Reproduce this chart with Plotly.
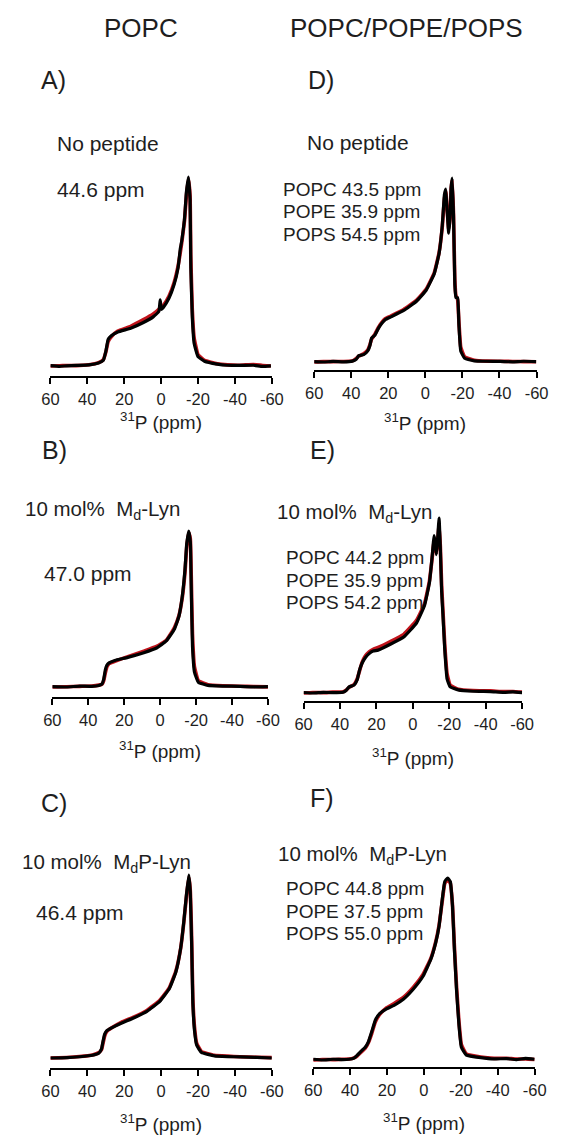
import plotly.graph_objects as go

W, H = 563, 1136
FONT = "Liberation Sans, Arial, sans-serif"
TXT = "#1e1e1e"

# ---------------- data ----------------
# Panel A: POPC, no peptide
A_ppm = [60, 55, 51.3, 46, 39.1, 33.9, 31.3, 29.9, 28.7, 27.0, 23.5, 16.5, 9.6, 4.3, 1.2, 0.5, -0.2, -1.2,
         -4.3, -7.0, -9.2, -10.4, -11.3, -12.7, -13.7, -14.8, -15.7, -16.1, -16.9, -17.9, -20.0, -23.5,
         -30.4, -36, -42.6, -50, -55, -59.5]
A_black = [0.002, -0.002, 0.001, 0.003, 0.006, 0.016, 0.03, 0.08, 0.14, 0.16, 0.18, 0.20, 0.23, 0.26, 0.29,
           0.35, 0.30, 0.31, 0.36, 0.43, 0.52, 0.62, 0.67, 0.78, 0.92, 1.0, 0.88, 0.52, 0.26, 0.12, 0.05,
           0.025, 0.01, 0.004, 0.003, 0.004, -0.002, 0.001]
A_red = [0.0, 0.001, 0.003, 0.002, 0.007, 0.018, 0.034, 0.075, 0.13, 0.155, 0.185, 0.21, 0.245, 0.275, 0.30,
         0.31, 0.31, 0.32, 0.37, 0.44, 0.53, 0.60, 0.66, 0.77, 0.90, 0.99, 0.90, 0.58, 0.30, 0.15, 0.06,
         0.03, 0.012, 0.006, 0.004, 0.008, 0.003, 0.0]

# Panel D: POPC/POPE/POPS, no peptide
D_ppm = [60, 55, 49.8, 44, 39.4, 37.3, 35.9, 33.3, 31.1, 29.9, 29.0, 27.3, 25.5, 23.5, 21.7, 18.6, 11.7,
         4.8, -0.4, -4.8, -7.4, -9.1, -10.3, -11.0, -11.7, -12.6, -13.4, -13.9, -14.5, -15.2, -15.9,
         -16.5, -17.4, -18.1, -19.1, -21.2, -26.4, -33, -40.3, -47, -53, -59.8]
D_black = [0.002, 0.0, 0.003, 0.001, 0.005, 0.015, 0.035, 0.04, 0.06, 0.09, 0.13, 0.145, 0.18, 0.21, 0.23,
           0.245, 0.28, 0.33, 0.39, 0.48, 0.59, 0.74, 0.91, 0.94, 0.83, 0.70, 0.80, 0.95, 1.0, 0.79, 0.42,
           0.35, 0.35, 0.20, 0.06, 0.02, 0.006, 0.004, 0.003, 0.001, 0.004, 0.002]
D_red = [0.0, 0.002, 0.002, 0.003, 0.006, 0.02, 0.032, 0.045, 0.065, 0.095, 0.125, 0.15, 0.185, 0.215,
         0.235, 0.25, 0.285, 0.335, 0.395, 0.485, 0.595, 0.73, 0.89, 0.93, 0.84, 0.72, 0.80, 0.94, 0.99,
         0.80, 0.45, 0.36, 0.34, 0.22, 0.08, 0.028, 0.01, 0.005, 0.004, 0.003, 0.002, 0.001]

# Panel B: POPC, 10 mol% Md-Lyn
B_ppm = [60, 52, 44.8, 38, 34.1, 32.3, 31.4, 30.5, 29.6, 28.4, 25.2, 18.0, 9.1, 2.0, -3.4, -7.9, -10.5,
         -12.3, -13.8, -14.8, -15.9, -16.8, -17.3, -18.0, -19.1, -21.3, -26.6, -35, -44.5, -52, -60]
B_black = [0.003, 0.0, 0.006, 0.004, 0.01, 0.02, 0.05, 0.11, 0.14, 0.155, 0.17, 0.19, 0.22, 0.25, 0.295,
           0.37, 0.455, 0.58, 0.75, 0.92, 1.0, 0.93, 0.64, 0.26, 0.095, 0.03, 0.01, 0.006, 0.004, 0.001,
           0.003]
B_red = [0.0, 0.002, 0.004, 0.006, 0.012, 0.018, 0.04, 0.09, 0.13, 0.15, 0.165, 0.195, 0.23, 0.26, 0.30,
         0.38, 0.46, 0.57, 0.73, 0.90, 0.99, 0.95, 0.72, 0.34, 0.13, 0.04, 0.015, 0.008, 0.005, 0.003,
         0.001]

# Panel E: POPC/POPE/POPS, 10 mol% Md-Lyn
E_ppm = [60, 55, 49.1, 44, 38.5, 36.7, 35.0, 32.3, 30.6, 29.3, 27.9, 26.2, 24.0, 21.8, 19.1, 12.1, 5.0,
         -2.0, -6.4, -9.1, -10.5, -11.7, -12.4, -12.9, -13.6, -14.4, -15.1, -15.8, -16.5, -17.5, -18.8,
         -20.5, -24.9, -33, -42.6, -50, -55, -60]
E_black = [0.003, 0.0, 0.004, 0.002, 0.004, 0.015, 0.035, 0.045, 0.075, 0.13, 0.17, 0.20, 0.225, 0.24,
           0.245, 0.28, 0.32, 0.40, 0.50, 0.63, 0.77, 0.90, 0.85, 0.79, 0.88, 1.0, 0.82, 0.58, 0.45,
           0.25, 0.08, 0.035, 0.018, 0.01, 0.008, 0.004, 0.006, 0.002]
E_red = [0.0, 0.003, 0.002, 0.005, 0.006, 0.016, 0.032, 0.048, 0.08, 0.125, 0.175, 0.21, 0.235, 0.25,
         0.26, 0.295, 0.335, 0.415, 0.51, 0.64, 0.76, 0.87, 0.84, 0.80, 0.86, 0.96, 0.84, 0.62, 0.48,
         0.28, 0.11, 0.045, 0.022, 0.014, 0.012, 0.008, 0.009, 0.005]

# Panel C: POPC, 10 mol% MdP-Lyn
C_ppm = [60, 51.1, 44.2, 37.2, 33.7, 32.3, 31.5, 30.6, 29.4, 26.8, 21.6, 14.6, 7.7, 0.7, -4.5, -8.0,
         -10.6, -12.3, -13.7, -15.0, -15.8, -16.6, -17.2, -18.1, -19.3, -21.9, -28.9, -36, -42.8, -52, -60]
C_black = [0.0, 0.002, 0.007, 0.015, 0.027, 0.05, 0.09, 0.13, 0.15, 0.165, 0.19, 0.22, 0.255, 0.31, 0.38,
           0.47, 0.60, 0.745, 0.89, 1.0, 0.91, 0.60, 0.30, 0.15, 0.07, 0.03, 0.012, 0.008, 0.006, 0.003,
           0.0]
C_red = [0.0, 0.003, 0.008, 0.017, 0.03, 0.045, 0.08, 0.12, 0.145, 0.165, 0.195, 0.225, 0.26, 0.315,
         0.385, 0.475, 0.60, 0.74, 0.88, 0.99, 0.92, 0.64, 0.33, 0.17, 0.08, 0.035, 0.015, 0.01, 0.007,
         0.004, 0.002]

# Panel F: POPC/POPE/POPS, 10 mol% MdP-Lyn
F_ppm = [60, 55, 49.2, 44, 40.5, 37.9, 36.2, 34.4, 31.8, 30.1, 28.3, 26.3, 24.0, 20.5, 16.2, 11.0, 5.7,
         0.5, -3.8, -6.4, -8.2, -9.9, -11.3, -12.9, -14.3, -15.5, -16.5, -17.7, -19.0, -20.3, -23.0,
         -30.8, -38, -44.7, -50, -55, -60]
F_black = [0.004, 0.0, 0.004, 0.002, 0.004, 0.01, 0.025, 0.045, 0.07, 0.10, 0.155, 0.22, 0.255, 0.28,
           0.30, 0.335, 0.39, 0.46, 0.555, 0.645, 0.735, 0.88, 0.98, 1.0, 0.98, 0.845, 0.61, 0.38, 0.19,
           0.07, 0.027, 0.013, 0.006, 0.008, 0.002, 0.009, 0.004]
F_red = [0.0, 0.003, 0.002, 0.004, 0.005, 0.012, 0.022, 0.04, 0.065, 0.095, 0.145, 0.21, 0.25, 0.285,
         0.31, 0.345, 0.40, 0.47, 0.56, 0.65, 0.74, 0.87, 0.97, 0.99, 0.97, 0.85, 0.63, 0.40, 0.21, 0.085,
         0.033, 0.016, 0.009, 0.01, 0.005, 0.006, 0.003]

tick_vals = [60, 40, 20, 0, -20, -40, -60]
tick_text = ["60", "40", "20", "0", "-20", "-40", "-60"]

columns = ["POPC", "POPC/POPE/POPS"]
panel_letters = ["A)", "B)", "C)", "D)", "E)", "F)"]
conditions = ["No peptide", "10 mol%  M<sub>d</sub>-Lyn", "10 mol%  M<sub>d</sub>P-Lyn"]
popc_csa = ["44.6 ppm", "47.0 ppm", "46.4 ppm"]
mix_csa = [
    ["POPC 43.5 ppm", "POPE 35.9 ppm", "POPS 54.5 ppm"],
    ["POPC 44.2 ppm", "POPE 35.9 ppm", "POPS 54.2 ppm"],
    ["POPC 44.8 ppm", "POPE 37.5 ppm", "POPS 55.0 ppm"],
]
axis_title = "<sup>31</sup>P (ppm)"

# ---------------- layout geometry (pixels) ----------------
# panel: x-left, x-right, axis line y, spectrum baseline y, peak y
geom = {
    "A": (43, 273, 376, 366, 177),
    "D": (317, 548, 370, 362, 178),
    "B": (45, 269, 697, 687, 531),
    "E": (306, 533, 701, 693, 518),
    "C": (43, 273, 1068, 1058, 875),
    "F": (316, 546, 1067, 1060, 878),
}
series = {
    "A": (A_ppm, A_red, A_black),
    "B": (B_ppm, B_red, B_black),
    "C": (C_ppm, C_red, C_black),
    "D": (D_ppm, D_red, D_black),
    "E": (E_ppm, E_red, E_black),
    "F": (F_ppm, F_red, F_black),
}
order = ["A", "B", "C", "D", "E", "F"]

fig = go.Figure()
layout = dict(
    width=W, height=H, margin=dict(l=0, r=0, t=0, b=0, pad=0),
    paper_bgcolor="white", plot_bgcolor="white", showlegend=False,
    font=dict(family=FONT, color=TXT),
)

def px(x):
    return x / W

def py(y):
    return 1 - y / H

for i, key in enumerate(order):
    n = i + 1
    xl, xr, ax_y, base, peak = geom[key]
    top = peak - 7
    scale = base - peak
    ymin = -(ax_y - base) / scale
    ymax = 1 + (peak - top) / scale
    xa = "xaxis" if n == 1 else f"xaxis{n}"
    ya = "yaxis" if n == 1 else f"yaxis{n}"
    layout[xa] = dict(
        domain=[px(xl), px(xr)], range=[60, -60], anchor=f"y{n}" if n > 1 else "y",
        showline=True, linecolor="black", linewidth=2, ticks="outside", ticklen=6,
        tickwidth=2, tickcolor="black", tickvals=tick_vals, ticktext=tick_text,
        tickfont=dict(size=16.5, family=FONT, color=TXT), showgrid=False, zeroline=False,
        ticklabelstandoff=1,
    )
    layout[ya] = dict(
        domain=[py(ax_y), py(top)], range=[ymin, ymax], anchor=f"x{n}" if n > 1 else "x",
        visible=False, showgrid=False, zeroline=False,
    )
    xs, red, black = series[key]
    xref = "x" if n == 1 else f"x{n}"
    yref = "y" if n == 1 else f"y{n}"
    fig.add_trace(go.Scatter(x=xs, y=red, mode="lines", xaxis=xref, yaxis=yref, hoverinfo="skip",
                             line=dict(color="#c0141c", width=3.6, shape="spline", smoothing=0.35)))
    fig.add_trace(go.Scatter(x=xs, y=black, mode="lines", xaxis=xref, yaxis=yref, hoverinfo="skip",
                             line=dict(color="black", width=3.2, shape="spline", smoothing=0.35)))

fig.update_layout(**layout)

ann = []

def text(s, x, y, size, anchor="left"):
    ann.append(dict(text=s, x=px(x), y=py(y), xref="paper", yref="paper", showarrow=False,
                    xanchor=anchor, yanchor="middle", font=dict(size=size, family=FONT, color=TXT)))

# column headers
text(columns[0], 137, 28, 26, "center")
text(columns[1], 413, 28, 26, "center")

# panel letters
text(panel_letters[0], 31, 80, 25)
text(panel_letters[1], 32, 450, 25)
text(panel_letters[2], 31, 803, 25)
text(panel_letters[3], 309, 80, 25)
text(panel_letters[4], 311, 450, 25)
text(panel_letters[5], 311, 798, 25)

# left column condition and CSA labels
text(conditions[0], 48, 143, 21)
text(popc_csa[0], 48, 190, 21)
text(conditions[1], 15, 510, 20.5)
text(popc_csa[1], 34, 573, 21)
text(conditions[2], 11, 863, 20.5)
text(popc_csa[2], 26, 912, 21)

# right column condition and CSA labels
text(conditions[0], 307, 142, 21)
for j, y in enumerate([189, 212, 234]):
    text(mix_csa[0][j], 283, y, 19)
text(conditions[1], 276, 513, 20.5)
for j, y in enumerate([557, 580, 602]):
    text(mix_csa[1][j], 286, y, 19)
text(conditions[2], 277, 855, 20.5)
for j, y in enumerate([888, 911, 933]):
    text(mix_csa[2][j], 286, y, 19)

# axis titles
text(axis_title, 158, 421, 19, "center")
text(axis_title, 432, 422, 19, "center")
text(axis_title, 157, 750, 19, "center")
text(axis_title, 420, 757, 19, "center")
text(axis_title, 158, 1123, 19, "center")
text(axis_title, 431, 1122, 19, "center")

fig.update_layout(annotations=ann)
fig.write_html("out.html", config={"displayModeBar": False},
               post_script="document.body.style.margin='0';document.body.style.overflow='hidden';")
